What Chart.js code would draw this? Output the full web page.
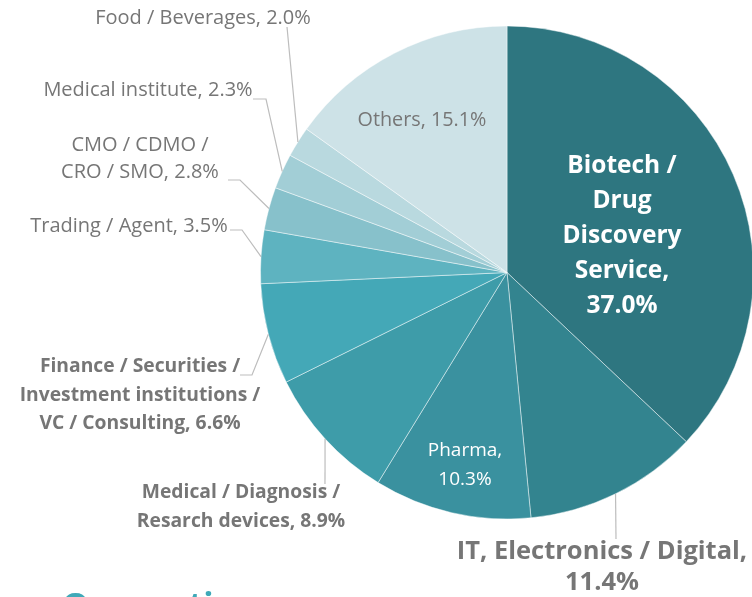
<!DOCTYPE html>
<html><head><meta charset="utf-8">
<script src="https://cdn.jsdelivr.net/npm/chart.js@4/dist/chart.umd.min.js"></script>
<style>
html,body{margin:0;padding:0;background:#fff;overflow:hidden;width:752px;height:597px}
#wrap{position:absolute;left:0;top:0;width:760px;height:597px}
</style>
</head><body><div id="wrap"><canvas id="c" width="760" height="597"></canvas></div>
<script>
// ---- data ----
const categories = [
  "Biotech / Drug Discovery Service",
  "IT, Electronics / Digital",
  "Pharma",
  "Medical / Diagnosis / Resarch devices",
  "Finance / Securities / Investment institutions / VC / Consulting",
  "Trading / Agent",
  "CMO / CDMO / CRO / SMO",
  "Medical institute",
  "Food / Beverages",
  "Others"
];
const values = [37.0, 11.4, 10.3, 8.9, 6.6, 3.5, 2.8, 2.3, 2.0, 15.1];
const sliceColors = ["#2e7680", "#33848f", "#3a919f", "#3e9ca9", "#44a8b7",
                     "#5eb3c0", "#87c1cb", "#a2ced6", "#b9d9df", "#cde2e7"];
const titleText = "Occupation";

// ---- label layout (text placement only) ----
const FONT = "'Segoe UI', 'Open Sans', sans-serif";
const GREY = "#767676";
const labelLayout = [
  {lines:["Biotech /","Drug","Discovery","Service,","{v}"], x:622, y:166, lh:35, size:24.5, weight:"bold", color:"#ffffff"},
  {lines:["IT, Electronics / Digital,","{v}"], x:602, y:552, lh:31, size:25.5, weight:"bold", color:GREY, leader:[[616,539]]},
  {lines:["Pharma,","{v}"], x:465, y:451, lh:29, size:19, weight:"normal", color:"#ffffff"},
  {lines:["Medical / Diagnosis /","Resarch devices, {v}"], x:241, y:493, lh:29, size:19.3, weight:"bold", color:GREY, leader:[[325,484]]},
  {lines:["Finance / Securities /","Investment institutions /","VC / Consulting, {v}"], x:140, y:367, lh:28.5, size:19.3, weight:"bold", color:GREY, leader:[[240,375],[252,375]]},
  {lines:["Trading / Agent, {v}"], x:129, y:226, lh:28, size:20, weight:"normal", color:GREY, leader:[[230,230],[242,230]]},
  {lines:["CMO / CDMO /","CRO / SMO, {v}"], x:140, y:145, lh:27.5, size:20, weight:"normal", color:GREY, leader:[[228,180],[240,180]]},
  {lines:["Medical institute, {v}"], x:148, y:90, lh:28, size:20, weight:"normal", color:GREY, leader:[[253,99],[266,99]]},
  {lines:["Food / Beverages, {v}"], x:203, y:18, lh:28, size:20, weight:"normal", color:GREY, leader:[[287,27]]},
  {lines:["Others, {v}"], x:422, y:120, lh:28, size:19.8, weight:"normal", color:GREY}
];

const labelPlugin = {
  id: 'pieLabels',
  afterDatasetsDraw(chart) {
    const ctx = chart.ctx;
    const meta = chart.getDatasetMeta(0);
    ctx.save();
    meta.data.forEach((arc, i) => {
      const L = labelLayout[i];
      if (!L) return;
      const p = arc.getProps(['x','y','startAngle','endAngle','outerRadius'], true);
      const mid = (p.startAngle + p.endAngle) / 2;
      if (L.leader) {
        const ex = p.x + Math.cos(mid) * p.outerRadius;
        const ey = p.y + Math.sin(mid) * p.outerRadius;
        ctx.beginPath();
        ctx.strokeStyle = "#bdbdbd";
        ctx.lineWidth = 1.2;
        ctx.moveTo(L.leader[0][0], L.leader[0][1]);
        for (let k = 1; k < L.leader.length; k++) ctx.lineTo(L.leader[k][0], L.leader[k][1]);
        ctx.lineTo(ex, ey);
        ctx.stroke();
      }
      ctx.fillStyle = L.color;
      ctx.font = L.weight + " " + L.size + "px " + FONT;
      ctx.textAlign = "center";
      ctx.textBaseline = "middle";
      const vtxt = values[i].toFixed(1) + "%";
      L.lines.forEach((ln, k) => {
        ctx.fillText(ln.replace("{v}", vtxt), L.x, L.y + k * L.lh);
      });
    });
    // partially visible section title at bottom
    ctx.fillStyle = "#3fa9b8";
    ctx.font = "bold 34px " + FONT;
    ctx.textAlign = "left";
    ctx.textBaseline = "alphabetic";
    ctx.fillText(titleText, 62, 617);
    ctx.restore();
  }
};

new Chart(document.getElementById('c'), {
  type: 'pie',
  data: {
    labels: categories,
    datasets: [{
      data: values,
      backgroundColor: sliceColors,
      borderColor: 'rgba(255,255,255,0.45)',
      borderWidth: 1
    }]
  },
  options: {
    responsive: false,
    animation: false,
    layout: { padding: { left: 260, right: 6, top: 25, bottom: 77 } },
    plugins: { legend: { display: false }, tooltip: { enabled: false } }
  },
  plugins: [labelPlugin]
});
</script>
</body></html>
